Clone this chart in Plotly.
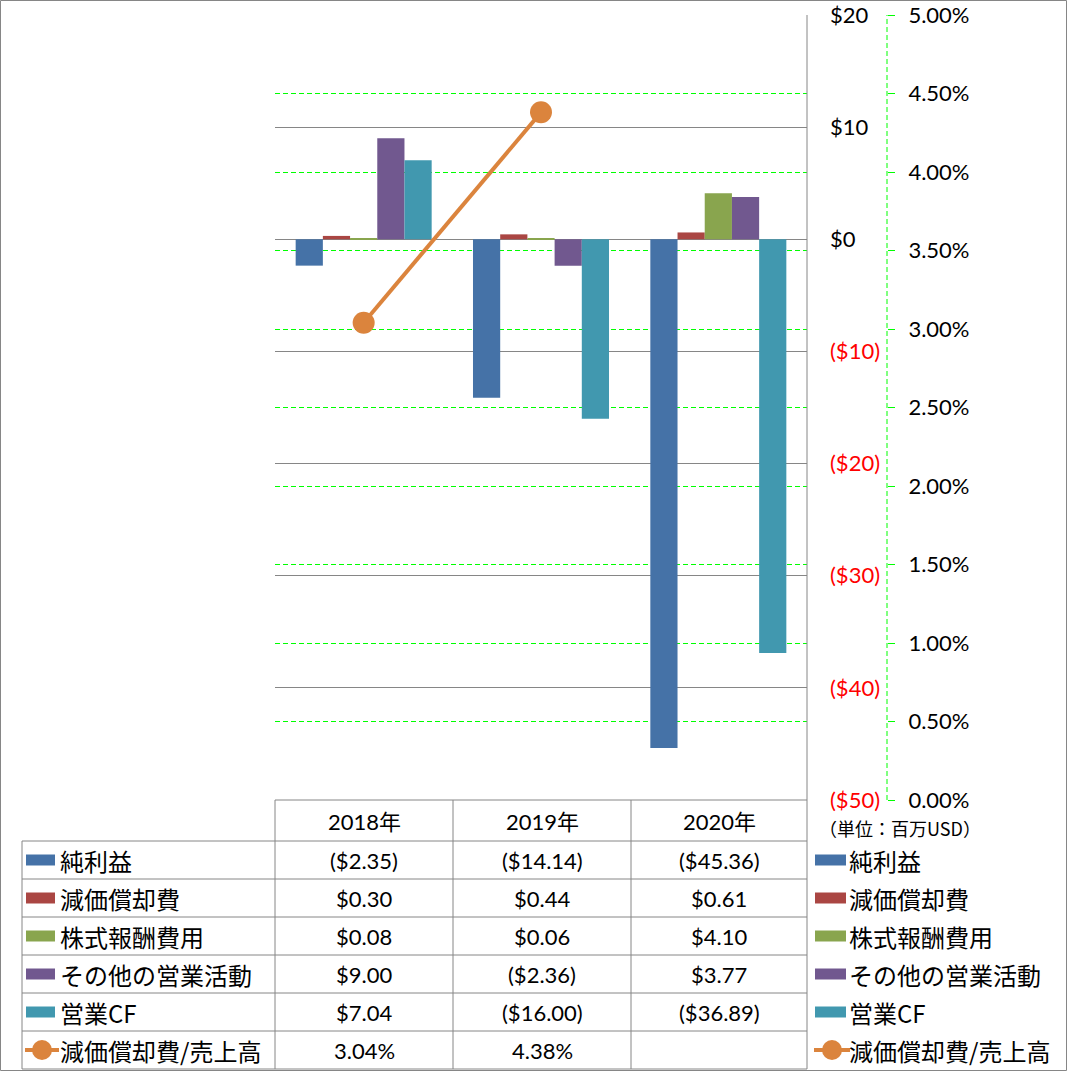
import plotly.graph_objects as go

# ---------------- data ----------------
years = ["2018年", "2019年", "2020年"]
series_names = ["純利益", "減価償却費", "株式報酬費用", "その他の営業活動", "営業CF"]
net_income = [-2.35, -14.14, -45.36]
depreciation = [0.30, 0.44, 0.61]
stock_comp = [0.08, 0.06, 4.10]
other_ops = [9.00, -2.36, 3.77]
operating_cf = [7.04, -16.00, -36.89]
line_name = "減価償却費/売上高"
dep_ratio = [0.0304, 0.0438, None]

usd_ticks = [20, 10, 0, -10, -20, -30, -40, -50]
pct_ticks = [0.05, 0.045, 0.04, 0.035, 0.03, 0.025, 0.02, 0.015, 0.01, 0.005, 0.0]
unit_label = "（単位：百万USD）"

bar_colors = ["#4572A7", "#AA4643", "#89A54E", "#71588F", "#4198AF"]
line_color = "#DB843D"
grid_gray = "#868686"
green = "#00FF00"

W, H = 1067, 1071
def px(x):
    return x / W
def py(y):
    return 1 - y / H

def money(v):
    if v is None:
        return ""
    return f"${v:.2f}" if v >= 0 else f"(${abs(v):.2f})"

def pct(v):
    if v is None:
        return ""
    return f"{v*100:.2f}%"

def usd_tick(v):
    if v >= 0:
        return f"${v}"
    return f"<span style='color:#FF0000'>(${abs(v)})</span>"

bar_series = [net_income, depreciation, stock_comp, other_ops, operating_cf]

fig = go.Figure()
for name, vals, col in zip(series_names, bar_series, bar_colors):
    fig.add_trace(go.Bar(x=years, y=vals, name=name, marker_color=col,
                         marker_line_width=0, yaxis="y", showlegend=False))
fig.add_trace(go.Scatter(x=years, y=dep_ratio, name=line_name, yaxis="y2",
                         mode="lines+markers", connectgaps=False,
                         line=dict(color=line_color, width=4),
                         marker=dict(size=22, color=line_color),
                         showlegend=False))

num_font = dict(family="Lato, Noto Sans", size=22, color="#000000")
cjk_font = dict(family="Noto Sans CJK JP", size=24, color="#000000")

fig.update_layout(
    width=W, height=H,
    margin=dict(l=0, r=0, t=0, b=0, autoexpand=False),
    paper_bgcolor="white", plot_bgcolor="white",
    barmode="group", bargap=0.233, bargroupgap=0,
    xaxis=dict(domain=[px(275), px(807)], showticklabels=False, showgrid=False,
               showline=False, ticks="", zeroline=False),
    yaxis=dict(domain=[py(800), py(15)], range=[-50, 20], side="right",
               tickvals=usd_ticks, ticktext=[usd_tick(v) for v in usd_ticks],
               showgrid=True, gridcolor=grid_gray, gridwidth=1,
               zeroline=True, zerolinecolor=grid_gray, zerolinewidth=1,
               showline=False, ticks="", ticklabelstandoff=22,
               tickfont=num_font),
    yaxis2=dict(overlaying="y", anchor="free", position=px(887), side="right",
                range=[0, 0.05], tickvals=pct_ticks,
                ticktext=[pct(v) for v in pct_ticks],
                showgrid=True, gridcolor=green, gridwidth=1, griddash="5px,3px",
                zeroline=False, showline=False,
                ticks="outside", ticklen=7, tickcolor=green, tickwidth=1,
                ticklabelstandoff=9, tickfont=num_font),
)

shapes = []
shapes.append(dict(type="rect", xref="paper", yref="paper", x0=px(0.5), x1=px(1066.5),
                   y0=py(1070.5), y1=py(0.5), line=dict(color=grid_gray, width=1)))
shapes.append(dict(type="line", xref="paper", yref="paper", x0=px(887), x1=px(887),
                   y0=py(800), y1=py(15), line=dict(color=green, width=1, dash="5px,3px")))
shapes.append(dict(type="line", xref="paper", yref="paper", x0=px(807), x1=px(807),
                   y0=py(1069), y1=py(15), line=dict(color=grid_gray, width=1)))

row_edges = [841, 879, 917, 955, 993, 1031, 1069]
col_edges = [275, 453, 631, 807]
shapes.append(dict(type="line", xref="paper", yref="paper", x0=px(275), x1=px(807),
                   y0=py(800), y1=py(800), line=dict(color=grid_gray, width=1)))
for ry in row_edges:
    shapes.append(dict(type="line", xref="paper", yref="paper", x0=px(22), x1=px(807),
                       y0=py(ry), y1=py(ry), line=dict(color=grid_gray, width=1)))
shapes.append(dict(type="line", xref="paper", yref="paper", x0=px(22), x1=px(22),
                   y0=py(841), y1=py(1069), line=dict(color=grid_gray, width=1)))
for cx in col_edges[:-1]:
    shapes.append(dict(type="line", xref="paper", yref="paper", x0=px(cx), x1=px(cx),
                       y0=py(800), y1=py(1069), line=dict(color=grid_gray, width=1)))

annotations = []
col_centers = [(col_edges[i] + col_edges[i + 1]) / 2 for i in range(3)]
row_centers = [(row_edges[i] + row_edges[i + 1]) / 2 for i in range(6)]

for cxc, yr in zip(col_centers, years):
    annotations.append(dict(xref="paper", yref="paper", x=px(cxc), y=py(821), text=yr,
                            showarrow=False, xanchor="center", yanchor="middle",
                            font=dict(family="Lato, Noto Sans CJK JP", size=22, color="#000")))

all_rows = [(n, v, c, "bar") for n, v, c in zip(series_names, bar_series, bar_colors)]
all_rows.append((line_name, dep_ratio, line_color, "line"))

for (name, vals, col, kind), rc in zip(all_rows, row_centers):
    for cxc, v in zip(col_centers, vals):
        txt = pct(v) if kind == "line" else money(v)
        annotations.append(dict(xref="paper", yref="paper", x=px(cxc), y=py(rc), text=txt,
                                showarrow=False, xanchor="center", yanchor="middle",
                                font=num_font))
    for (sx0, sx1, tx) in [(26, 55, 58), (815, 846, 847)]:
        if kind == "bar":
            shapes.append(dict(type="rect", xref="paper", yref="paper", x0=px(sx0), x1=px(sx1),
                               y0=py(rc + 5.5), y1=py(rc - 5.5), fillcolor=col,
                               line=dict(width=0)))
        else:
            shapes.append(dict(type="line", xref="paper", yref="paper", x0=px(sx0 - 1), x1=px(sx1 + 4),
                               y0=py(rc), y1=py(rc), line=dict(color=col, width=4)))
            mx = (sx0 + sx1 + 3) / 2
            shapes.append(dict(type="circle", xref="paper", yref="paper", x0=px(mx - 10), x1=px(mx + 10),
                               y0=py(rc + 10), y1=py(rc - 10), fillcolor=col, line=dict(width=0)))
        annotations.append(dict(xref="paper", yref="paper", x=px(tx), y=py(rc), text=name,
                                showarrow=False, xanchor="left", yanchor="middle", font=cjk_font))

annotations.append(dict(xref="paper", yref="paper", x=px(817), y=py(828), text=unit_label,
                        showarrow=False, xanchor="left", yanchor="middle",
                        font=dict(family="Noto Sans CJK JP", size=18, color="#000")))

fig.update_layout(shapes=shapes, annotations=annotations)
fig.write_html(
    "out.html",
    config={"displayModeBar": False},
    post_script=(
        "document.documentElement.style.margin='0';"
        "document.body.style.margin='0';document.body.style.padding='0';"
        "document.body.style.overflow='hidden';"
        "document.documentElement.style.overflow='hidden';"
        "var gd=document.getElementById('{plot_id}');"
        "gd.style.position='fixed';gd.style.top='0px';gd.style.left='0px';"
    ),
)
